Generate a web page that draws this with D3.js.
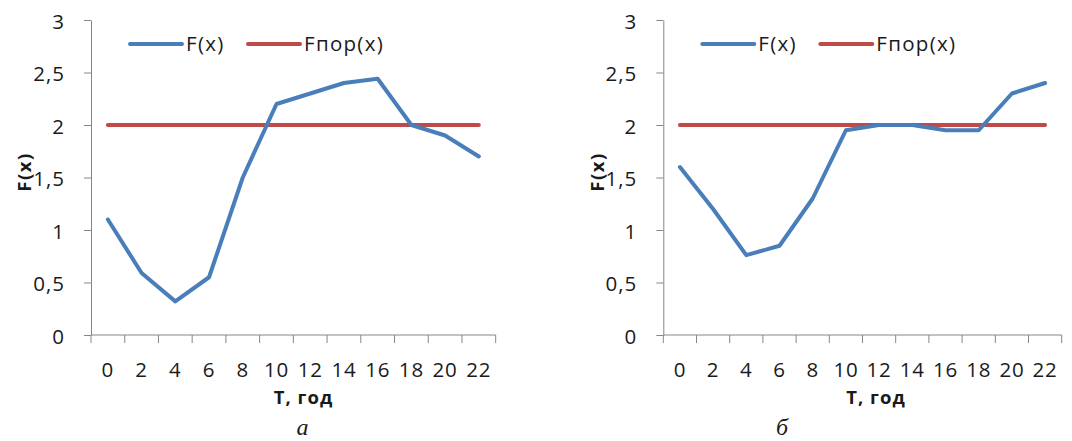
<!DOCTYPE html>
<html>
<head>
<meta charset="utf-8">
<script src="https://cdn.jsdelivr.net/npm/d3@7"></script>
<style>
  html, body { margin: 0; padding: 0; background: #fff; }
  svg { display: block; }
  .tick text { font-family: "Open Sans", sans-serif; }
</style>
</head>
<body>
<svg id="chart" width="1072" height="441"></svg>
<script>
// Hours of the day (category axis)
const hours = ["0", "2", "4", "6", "8", "10", "12", "14", "16", "18", "20", "22"];

// F(x) for variant "а"
const fA = [1.1, 0.59, 0.32, 0.55, 1.5, 2.2, 2.3, 2.4, 2.44, 2.0, 1.9, 1.7];
// F(x) for variant "б"
const fB = [1.6, 1.2, 0.76, 0.85, 1.3, 1.95, 2.0, 2.0, 1.95, 1.95, 2.3, 2.4];
// Threshold Fпор(x)
const fThreshold = [2, 2, 2, 2, 2, 2, 2, 2, 2, 2, 2, 2];

// Value axis ticks
const yTicks = [0, 0.5, 1, 1.5, 2, 2.5, 3];

const seriesNames = ["F(x)", "Fпор(x)"];
const captions = ["а", "б"];

const BLUE = "#4A7EBB";
const RED = "#BE4B48";
const AXIS = "#868686";
const TEXT = "#1a1a1a";

const svg = d3.select("#chart");

function drawPanel(cfg) {
  const g = svg.append("g");

  const x = d3.scaleBand().domain(hours).range([cfg.x0, cfg.x1]).padding(0);
  const y = d3.scaleLinear().domain([0, 3]).range([335, 20]);
  const cx = d => x(d) + x.bandwidth() / 2;

  // Value axis
  const yAxis = d3.axisLeft(y)
    .tickValues(yTicks)
    .tickSize(7)
    .tickSizeOuter(0)
    .tickPadding(19)
    .tickFormat(d => String(d).replace(".", ","));
  const ya = g.append("g").attr("transform", `translate(${cfg.x0},0)`).call(yAxis);
  ya.select(".domain").attr("stroke", AXIS);
  ya.selectAll(".tick line").attr("stroke", AXIS);
  ya.selectAll(".tick text")
    .attr("font-size", 20.5)
    .attr("letter-spacing", 1)
    .attr("fill", TEXT)
    .attr("dy", "0.4em");

  // Category axis: line, ticks between categories, labels at centres
  const xa = g.append("g").attr("transform", `translate(0,${y(0)})`);
  xa.append("line")
    .attr("x1", cfg.x0).attr("x2", cfg.x1)
    .attr("stroke", AXIS);
  const bounds = hours.map(h => x(h)).concat([cfg.x1]);
  xa.selectAll("line.sep").data(bounds).join("line")
    .attr("class", "sep")
    .attr("x1", d => d).attr("x2", d => d)
    .attr("y1", 0).attr("y2", 8)
    .attr("stroke", AXIS);
  const xAxis = d3.axisBottom(x).tickSize(0).tickPadding(27);
  const xl = g.append("g").attr("transform", `translate(0,${y(0)})`).call(xAxis);
  xl.select(".domain").remove();
  xl.selectAll(".tick text")
    .attr("font-size", 20.5)
    .attr("letter-spacing", 0.8)
    .attr("fill", TEXT);

  // Series lines
  const line = d3.line().x((d, i) => cx(hours[i])).y(d => y(d));
  g.append("path").datum(fThreshold)
    .attr("d", line)
    .attr("fill", "none").attr("stroke", RED)
    .attr("stroke-width", 4).attr("stroke-linecap", "round").attr("stroke-linejoin", "round");
  g.append("path").datum(cfg.values)
    .attr("d", line)
    .attr("fill", "none").attr("stroke", BLUE)
    .attr("stroke-width", 4).attr("stroke-linecap", "round").attr("stroke-linejoin", "round");

  // Legend
  const lg = g.append("g").attr("transform", `translate(${cfg.x0 + 39},44)`);
  const legendItems = [
    { name: seriesNames[0], color: BLUE, off: 0, textOff: 56 },
    { name: seriesNames[1], color: RED, off: 118, textOff: 174 }
  ];
  legendItems.forEach(it => {
    lg.append("line")
      .attr("x1", it.off).attr("x2", it.off + 52)
      .attr("stroke", it.color).attr("stroke-width", 4).attr("stroke-linecap", "round");
    lg.append("text")
      .attr("x", it.textOff).attr("y", 0).attr("dy", "0.36em")
      .attr("font-family", "Open Sans, sans-serif")
      .attr("font-size", 20.5).attr("letter-spacing", 1.3)
      .attr("fill", TEXT)
      .text(it.name);
  });

  // Axis titles
  g.append("text")
    .attr("transform", `translate(${cfg.yTitleX},172) rotate(-90)`)
    .attr("text-anchor", "middle").attr("dy", "0.36em")
    .attr("font-family", "Open Sans, sans-serif").attr("font-weight", "bold")
    .attr("font-size", 18.5).attr("letter-spacing", 1.5)
    .attr("fill", TEXT)
    .text("F(x)");
  g.append("text")
    .attr("x", cfg.xTitleX).attr("y", 404)
    .attr("text-anchor", "middle")
    .attr("font-family", "Open Sans, sans-serif").attr("font-weight", "bold")
    .attr("font-size", 18.5).attr("letter-spacing", 1)
    .attr("fill", TEXT)
    .text("T, год");

  // Panel caption
  g.append("text")
    .attr("x", cfg.capX).attr("y", 435)
    .attr("text-anchor", "middle")
    .attr("font-family", "Liberation Serif, serif").attr("font-style", "italic")
    .attr("font-size", 24)
    .attr("fill", TEXT)
    .text(cfg.caption);
}

drawPanel({ x0: 91, x1: 495.7, values: fA, yTitleX: 24, xTitleX: 303.5, capX: 302.5, caption: captions[0] });
drawPanel({ x0: 663.3, x1: 1061.7, values: fB, yTitleX: 597, xTitleX: 876, capX: 782, caption: captions[1] });
</script>
</body>
</html>
